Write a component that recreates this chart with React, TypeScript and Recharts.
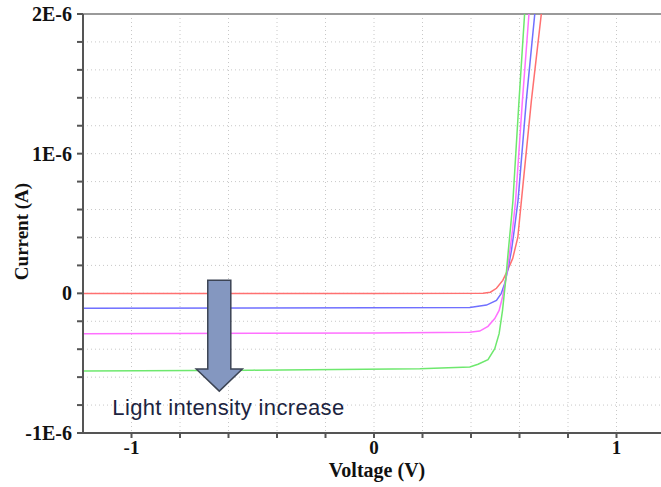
import {
  LineChart,
  Line,
  XAxis,
  YAxis,
  CartesianGrid,
  ReferenceArea,
  ReferenceDot,
  ReferenceLine,
} from "recharts";

// currents are in units of 1E-6 A
const redV = [-1.2, 0.0, 0.45, 0.48, 0.505, 0.531, 0.551, 0.572, 0.593, 0.608, 0.649, 0.69];
const redI = [-0.002, -0.002, 0.0, 0.008, 0.036, 0.093, 0.165, 0.25, 0.4, 0.666, 1.38, 2.0];

const blueV = [-1.2, 0.0, 0.395, 0.464, 0.505, 0.525, 0.539, 0.553, 0.567, 0.58, 0.594, 0.628, 0.663];
const blueI = [-0.107, -0.104, -0.102, -0.084, -0.05, 0.0, 0.07, 0.177, 0.31, 0.475, 0.666, 1.38, 2.0];

const magentaV = [-1.2, 0.0, 0.395, 0.436, 0.47, 0.498, 0.516, 0.53, 0.543, 0.557, 0.571, 0.584, 0.612, 0.639];
const magentaI = [-0.289, -0.284, -0.279, -0.27, -0.236, -0.181, -0.122, -0.026, 0.093, 0.26, 0.45, 0.666, 1.38, 2.0];

const greenV = [-1.2, -0.5, 0.189, 0.395, 0.429, 0.47, 0.498, 0.516, 0.53, 0.543, 0.554, 0.567, 0.573, 0.598, 0.621];
const greenI = [-0.556, -0.55, -0.54, -0.527, -0.508, -0.475, -0.396, -0.289, -0.122, 0.093, 0.308, 0.546, 0.666, 1.38, 2.0];

const xTicks = [-1, -0.8, -0.6, -0.4, -0.2, 0, 0.2, 0.4, 0.6, 0.8, 1, 1.2];
const yTicks = [-1, -0.8, -0.6, -0.4, -0.2, 0, 0.2, 0.4, 0.6, 0.8, 1, 1.2, 1.4, 1.6, 1.8, 2];
const xLabels: [number, string][] = [[-1, "-1"], [0, "0"], [1, "1"]];
const yLabels: [number, string][] = [[-1, "-1E-6"], [0, "0"], [1, "1E-6"], [2, "2E-6"]];

// arrow annotation box (voltage, current)
const arrowV = [-0.733, -0.543];
const arrowI = [-0.7, 0.093];
const noteV = -1.079;
const noteI = -0.873;
const noteText = "Light intensity increase";

const zip = (v: number[], i: number[]) => v.map((x, k) => ({ v: x, i: i[k] }));

const series = [
  { name: "red", data: zip(redV, redI), color: "#ff7070" },
  { name: "blue", data: zip(blueV, blueI), color: "#7070ff" },
  { name: "magenta", data: zip(magentaV, magentaI), color: "#ff70ff" },
  { name: "green", data: zip(greenV, greenI), color: "#6ee86e" },
];

const pick = (labels: [number, string][]) => (val: number) => {
  const hit = labels.find(([k]) => Math.abs(k - val) < 1e-9);
  return hit ? hit[1] : "";
};

const serif = "'Liberation Serif', 'Times New Roman', serif";
const axisColor = "#555";

const ArrowShape = (p: any) => {
  const { x, y, width, height } = p;
  const cx = x + width / 2;
  const shaftHalf = width / 4;
  const headTop = y + height * 0.8;
  const pts = [
    [cx - shaftHalf, y],
    [cx + shaftHalf, y],
    [cx + shaftHalf, headTop],
    [x + width, headTop],
    [cx, y + height],
    [x, headTop],
    [cx - shaftHalf, headTop],
  ]
    .map((q) => q.join(","))
    .join(" ");
  return <polygon points={pts} fill="#8497c0" stroke="#3c4454" strokeWidth={1.5} />;
};

export default function App() {
  return (
    <div
      style={{
        position: "fixed",
        left: 0,
        top: 0,
        width: 661,
        height: 487,
        overflow: "hidden",
        background: "#fff",
      }}
    >
      <LineChart width={665} height={487} margin={{ top: 14, right: 0, bottom: 0, left: 0 }}>
        <CartesianGrid stroke="#c8c8c8" strokeDasharray="1 3" />
        <XAxis
          type="number"
          dataKey="v"
          domain={[-1.2, 1.2]}
          allowDataOverflow
          ticks={xTicks}
          tickFormatter={pick(xLabels)}
          height={54}
          tickSize={5}
          tickMargin={3}
          axisLine={{ stroke: axisColor, strokeWidth: 2 }}
          tickLine={{ stroke: axisColor, strokeWidth: 2 }}
          tick={{ fill: "#111", fontSize: 19, fontFamily: serif, fontWeight: "bold" }}
          label={{
            content: ({ viewBox }: any) => (
              <text
                x={viewBox.x + viewBox.width / 2 + 3}
                y={viewBox.y + 37}
                textAnchor="middle"
                dominantBaseline="central"
                fill="#111"
                fontSize={20}
                fontFamily={serif}
                fontWeight="bold"
              >
                Voltage (V)
              </text>
            ),
          }}
        />
        <YAxis
          type="number"
          dataKey="i"
          domain={[-1, 2]}
          allowDataOverflow
          ticks={yTicks}
          tickFormatter={pick(yLabels)}
          width={83}
          tickSize={6}
          tickMargin={5}
          axisLine={{ stroke: axisColor, strokeWidth: 2 }}
          tickLine={{ stroke: axisColor, strokeWidth: 2 }}
          tick={{ fill: "#111", fontSize: 20, fontFamily: serif, fontWeight: "bold" }}
          label={{
            content: ({ viewBox }: any) => {
              const cx = viewBox.x + 21;
              const cy = viewBox.y + viewBox.height / 2 + 8;
              return (
                <text
                  x={cx}
                  y={cy}
                  transform={`rotate(-90 ${cx} ${cy})`}
                  textAnchor="middle"
                  dominantBaseline="central"
                  fill="#111"
                  fontSize={19}
                  fontFamily={serif}
                  fontWeight="bold"
                >
                  Current (A)
                </text>
              );
            },
          }}
        />
        <ReferenceLine y={2} stroke="#9a9a9a" strokeWidth={2} />
        {series.map((s) => (
          <Line
            key={s.name}
            data={s.data}
            dataKey="i"
            type="linear"
            stroke={s.color}
            strokeWidth={1.5}
            dot={false}
            isAnimationActive={false}
          />
        ))}
        <ReferenceArea
          x1={arrowV[0]}
          x2={arrowV[1]}
          y1={arrowI[0]}
          y2={arrowI[1]}
          shape={ArrowShape}
          zIndex={900}
        />
        <ReferenceDot
          x={noteV}
          y={noteI}
          r={1}
          zIndex={900}
          shape={(p: any) => (
            <text
              x={p.cx}
              y={p.cy}
              fill="#1c2440"
              fontSize={22}
              letterSpacing={0.35}
              fontFamily="'Liberation Sans', Arial, sans-serif"
            >
              {noteText}
            </text>
          )}
        />
      </LineChart>
    </div>
  );
}
